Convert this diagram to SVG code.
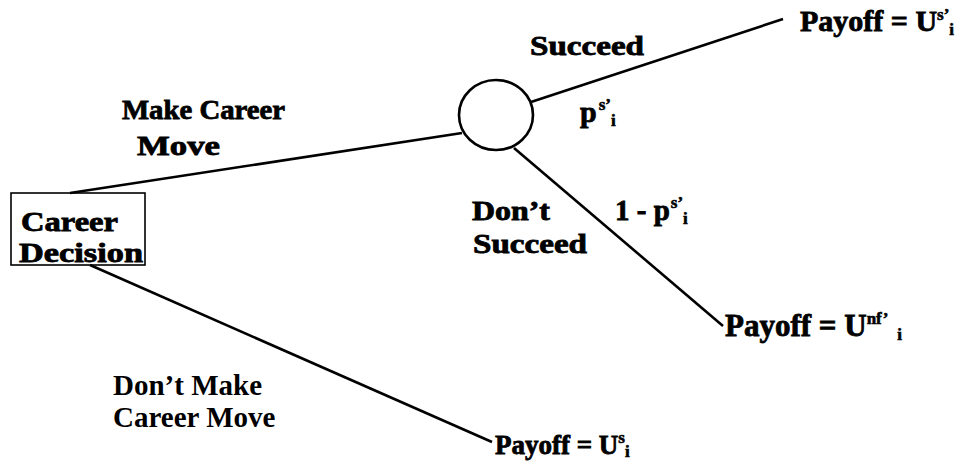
<svg xmlns="http://www.w3.org/2000/svg" width="967" height="463" viewBox="0 0 967 463">
<style>
.h{font-family:"Liberation Serif","Times New Roman",serif;font-weight:bold;font-size:27px;fill:#000;stroke:#000;stroke-width:0.8;}
.t{font-family:"Liberation Serif","Times New Roman",serif;font-weight:bold;font-size:29px;fill:#000;}
.s{font-size:17px;stroke-width:0.6;}
.ln{stroke:#000;stroke-width:2.6;fill:none;}
</style>
<rect width="967" height="463" fill="#fff"/>
<g id="connectors">
<line class="ln" x1="70" y1="193" x2="462" y2="133"/>
<line class="ln" x1="531" y1="102" x2="783" y2="19"/>
<line class="ln" x1="514" y1="148" x2="723" y2="326"/>
<line class="ln" x1="90" y1="265" x2="492" y2="442"/>
</g>
<g id="career-decision">
<rect x="11" y="193" width="134" height="72" fill="none" stroke="#000" stroke-width="1.6"/>
<text class="h" x="21" y="231" textLength="97" lengthAdjust="spacingAndGlyphs">Career</text>
<text class="h" x="19" y="262" textLength="124" lengthAdjust="spacingAndGlyphs">Decision</text>
</g>
<g id="chance">
<ellipse cx="496" cy="115" rx="37" ry="35" fill="#fff" stroke="#000" stroke-width="2.6"/>
</g>
<g id="labels">
<text class="h" x="122" y="119" textLength="163" lengthAdjust="spacingAndGlyphs">Make Career</text>
<text class="h" x="137" y="155" textLength="83" lengthAdjust="spacingAndGlyphs">Move</text>
<text class="h" x="530" y="55" textLength="114" lengthAdjust="spacingAndGlyphs">Succeed</text>
<text class="h" x="580" y="122" style="font-size:30px">p<tspan class="s" dx="2" dy="-12">s’</tspan><tspan class="s" dx="0" dy="16">i</tspan></text>
<text class="h" x="472" y="220" textLength="78" lengthAdjust="spacingAndGlyphs">Don’t</text>
<text class="h" x="473" y="253" textLength="114" lengthAdjust="spacingAndGlyphs">Succeed</text>
<text class="h" x="615" y="220" style="font-size:29px">1 - p<tspan class="s" dx="1" dy="-12">s’</tspan><tspan class="s" dx="0" dy="16">i</tspan></text>
<text class="t" x="113" y="395">Don’t Make</text>
<text class="t" x="113" y="427">Career Move</text>
</g>
<g id="payoff-succeed">
<text class="h" x="800" y="31" style="font-size:30px">Payoff = U<tspan class="s" dy="-11">s’</tspan><tspan class="s" dx="0" dy="15">i</tspan></text>
</g>
<g id="payoff-fail">
<text class="h" x="725" y="336" style="font-size:31px">Payoff = U<tspan class="s" dy="-12">nf’</tspan><tspan class="s" dx="9" dy="16">i</tspan></text>
</g>
<g id="payoff-stay">
<text class="h" x="495" y="454">Payoff = U<tspan class="s" dy="-11">s</tspan><tspan class="s" dx="0" dy="14">i</tspan></text>
</g>
</svg>
